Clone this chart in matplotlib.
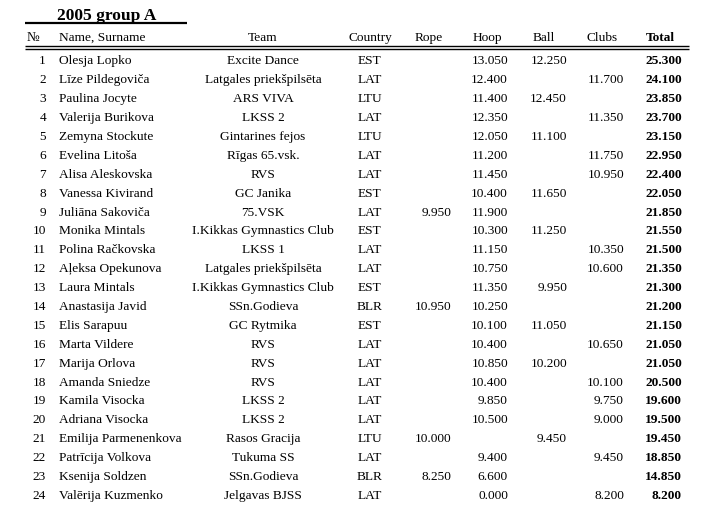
import matplotlib
matplotlib.use("Agg")
import matplotlib.pyplot as plt

title = "2005 group A"
headers = ["№", "Name, Surname", "Team", "Country", "Rope", "Hoop", "Ball", "Clubs", "Total"]

names = ["Olesja Lopko", "Līze Pildegoviča", "Paulina Jocyte", "Valerija Burikova",
         "Zemyna Stockute", "Evelina Litoša", "Alisa Aleskovska", "Vanessa Kivirand",
         "Juliāna Sakoviča", "Monika Mintals", "Polina Račkovska", "Aļeksa Opekunova",
         "Laura Mintals", "Anastasija Javid", "Elis Sarapuu", "Marta Vildere",
         "Marija Orlova", "Amanda Sniedze", "Kamila Visocka", "Adriana Visocka",
         "Emilija Parmenenkova", "Patrīcija Volkova", "Ksenija Soldzen", "Valērija Kuzmenko"]
teams = ["Excite Dance", "Latgales priekšpilsēta", "ARS VIVA", "LKSS 2",
         "Gintarines fejos", "Rīgas 65.vsk.", "RVS", "GC Janika",
         "75.VSK", "I.Kikkas Gymnastics Club", "LKSS 1", "Latgales priekšpilsēta",
         "I.Kikkas Gymnastics Club", "SSn.Godieva", "GC Rytmika", "RVS",
         "RVS", "RVS", "LKSS 2", "LKSS 2",
         "Rasos Gracija", "Tukuma SS", "SSn.Godieva", "Jelgavas BJSS"]
countries = ["EST", "LAT", "LTU", "LAT", "LTU", "LAT", "LAT", "EST", "LAT", "EST", "LAT", "LAT",
             "EST", "BLR", "EST", "LAT", "LAT", "LAT", "LAT", "LAT", "LTU", "LAT", "BLR", "LAT"]
rope = [None, None, None, None, None, None, None, None, 9.950, None, None, None,
        None, 10.950, None, None, None, None, None, None, 10.000, None, 8.250, None]
hoop = [13.050, 12.400, 11.400, 12.350, 12.050, 11.200, 11.450, 10.400, 11.900, 10.300, 11.150, 10.750,
        11.350, 10.250, 10.100, 10.400, 10.850, 10.400, 9.850, 10.500, None, 9.400, 6.600, 0.000]
ball = [12.250, None, 12.450, None, 11.100, None, None, 11.650, None, 11.250, None, None,
        9.950, None, 11.050, None, 10.200, None, None, None, 9.450, None, None, None]
clubs = [None, 11.700, None, 11.350, None, 11.750, 10.950, None, None, None, 10.350, 10.600,
         None, None, None, 10.650, None, 10.100, 9.750, 9.000, None, 9.450, None, 8.200]
total = [25.300, 24.100, 23.850, 23.700, 23.150, 22.950, 22.400, 22.050, 21.850, 21.550, 21.500, 21.350,
         21.300, 21.200, 21.150, 21.050, 21.050, 20.500, 19.600, 19.500, 19.450, 18.850, 14.850, 8.200]

W, H = 701, 516
fig = plt.figure(figsize=(W / 100, H / 100), dpi=100)
ax = fig.add_axes([0, 0, 1, 1])
ax.set_xlim(0, W)
ax.set_ylim(H, 0)
ax.axis("off")

FONT = "Liberation Serif"
FS = 9.65
kw = dict(family=FONT, fontsize=FS, color="black", va="baseline")

# title
ax.text(57, 19.5, title, family=FONT, fontsize=12.6, fontweight="bold", va="baseline", ha="left")
ax.plot([25, 187], [23, 23], color="black", lw=1.6, solid_capstyle="butt")

# header
hy = 41
ax.text(33, hy, headers[0], ha="center", **kw)
ax.text(59, hy, headers[1], ha="left", **kw)
ax.text(263, hy, headers[2], ha="center", **kw)
ax.text(370, hy, headers[3], ha="center", **kw)
ax.text(428.5, hy, headers[4], ha="center", **kw)
ax.text(487, hy, headers[5], ha="center", **kw)
ax.text(543.5, hy, headers[6], ha="center", **kw)
ax.text(602, hy, headers[7], ha="center", **kw)
ax.text(660, hy, headers[8], ha="center", fontweight="bold", **kw)

ax.plot([25, 689], [45.6, 45.6], color="black", lw=1.0, solid_capstyle="butt")
ax.plot([25, 689], [48.6, 48.6], color="black", lw=1.0, solid_capstyle="butt")

def fmt(v):
    return "" if v is None else f"{v:.3f}"

y0, dy = 64.3, 18.9
for i in range(len(names)):
    y = y0 + i * dy
    ax.text(46, y, str(i + 1), ha="right", **kw)
    ax.text(59, y, names[i], ha="left", **kw)
    ax.text(263, y, teams[i], ha="center", **kw)
    ax.text(370, y, countries[i], ha="center", **kw)
    ax.text(451, y, fmt(rope[i]), ha="right", **kw)
    ax.text(508, y, fmt(hoop[i]), ha="right", **kw)
    ax.text(567, y, fmt(ball[i]), ha="right", **kw)
    ax.text(624, y, fmt(clubs[i]), ha="right", **kw)
    ax.text(682, y, fmt(total[i]), ha="right", fontweight="bold", **kw)

fig.savefig("out.png", dpi=100, facecolor="white")
